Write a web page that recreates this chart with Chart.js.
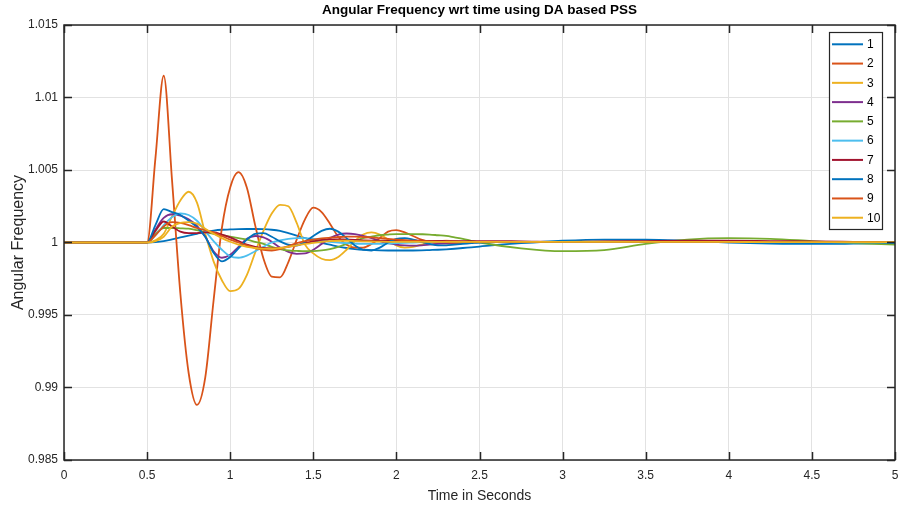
<!DOCTYPE html>
<html>
<head>
<meta charset="utf-8">
<script src="https://cdn.jsdelivr.net/npm/chart.js@4.4.1/dist/chart.umd.min.js"></script>
<style>
  html, body { margin: 0; padding: 0; background: #fff; }
</style>
</head>
<body>
<canvas id="freqChart" width="899" height="508"></canvas>
<script>
// time samples (s), dense during the transient
const times = [0, 0.5,
  0.55, 0.6, 0.65, 0.7, 0.75, 0.8, 0.85, 0.9, 0.95, 1,
  1.05, 1.1, 1.15, 1.2, 1.25, 1.3, 1.35, 1.4, 1.45, 1.5,
  1.55, 1.6, 1.65, 1.7, 1.75, 1.8, 1.85, 1.9, 1.95, 2,
  2.05, 2.1, 2.15, 2.2, 2.25, 2.3, 2.35, 2.4, 2.45, 2.5,
  2.75, 3, 3.25, 3.5, 3.75, 4, 4.25, 4.5, 4.75, 5];

const gen1 = [1, 1,
  1.00003, 1.0001, 1.00022, 1.00035, 1.00048, 1.0006, 1.00072, 1.00082, 1.00088, 1.0009,
  1.00092, 1.00093, 1.00093, 1.00092, 1.00088, 1.0008, 1.00065, 1.00048, 1.0003, 1.00012,
  0.99998, 0.99985, 0.99972, 0.99962, 0.99955, 0.9995, 0.99948, 0.99946, 0.99945, 0.99945,
  0.99945, 0.99945, 0.99946, 0.99948, 0.9995, 0.99953, 0.99957, 0.99962, 0.99967, 0.99972,
  0.99995, 1.00012, 1.0002, 1.0002, 1.00012, 1.0, 0.99993, 0.9999, 0.99992, 0.99995];
const gen2 = [1, 1,
  1.0058, 1.0115, 1.0043, 0.9965, 0.991, 0.9888, 0.9907, 0.996, 1.001, 1.0038,
  1.00485, 1.0038, 1.0012, 0.9989, 0.99765, 0.9976, 0.99865, 1.0002, 1.0016, 1.0024,
  1.0021, 1.0013, 1.0004, 0.99985, 0.99965, 0.99965, 0.9999, 1.0003, 1.00075, 1.00085,
  1.0007, 1.00045, 1.0002, 1.00005, 0.99995, 0.99992, 0.99992, 0.99995, 1.0, 1.00003,
  1.00005, 1.00005, 1.00005, 1.00005, 1.00005, 1.00005, 1.00005, 1.00004, 1.00003, 1.00002];
const gen3 = [1, 1,
  1.00015, 1.0006, 1.0018, 1.0029, 1.0035, 1.00275, 1.0006, 0.9987, 0.9974, 0.99665,
  0.9968, 0.99775, 0.9993, 1.0008, 1.002, 1.0026, 1.0025, 1.00135, 0.99985, 0.99925,
  0.99888, 0.99878, 0.999, 0.9995, 1.0001, 1.00055, 1.0007, 1.00055, 1.0002, 0.9998,
  0.99965, 0.9997, 0.99985, 1.0, 1.0001, 1.00012, 1.0001, 1.00006, 1.00003, 1.00002,
  1.00003, 1.00005, 1.00006, 1.00006, 1.00005, 1.00005, 1.00004, 1.00003, 1.00002, 1.00002];
const gen4 = [1, 1,
  1.0009, 1.0017, 1.00195, 1.00185, 1.0016, 1.00115, 1.0004, 0.9994, 0.99895, 0.99915,
  0.9997, 1.00025, 1.00045, 1.00035, 1.00005, 0.99965, 0.99935, 0.99922, 0.99925, 0.9995,
  0.9999, 1.0003, 1.00055, 1.00062, 1.00058, 1.00045, 1.0003, 1.0001, 0.99995, 0.99985,
  0.9998, 0.99978, 0.9998, 0.99985, 0.9999, 0.99995, 1.0, 1.00004, 1.00005, 1.00005,
  1.00005, 1.00004, 1.00004, 1.00005, 1.00006, 1.00006, 1.00005, 1.00004, 1.00003, 1.00002];
const gen5 = [1, 1,
  1.0006, 1.001, 1.001, 1.00098, 1.00095, 1.00085, 1.00072, 1.0006, 1.0005, 1.0004,
  1.0003, 1.0002, 1.00005, 0.9999, 0.9997, 0.99955, 0.99945, 0.99942, 0.9994, 0.9994,
  0.99945, 0.99955, 0.9997, 0.9999, 1.0001, 1.0003, 1.0004, 1.0005, 1.00055, 1.00058,
  1.00058, 1.00058, 1.00057, 1.00055, 1.0005, 1.00045, 1.00035, 1.00025, 1.00012, 1.0,
  0.9996, 0.9994, 0.99948, 0.9999, 1.0002, 1.0003, 1.00025, 1.0001, 0.99995, 0.99985];
const gen6 = [1, 1,
  1.0005, 1.0012, 1.00175, 1.002, 1.0019, 1.0015, 1.0008, 1.0001, 0.9995, 0.99905,
  0.99895, 0.9991, 0.9994, 0.9997, 1.0, 1.00015, 1.00025, 1.0003, 1.0003, 1.00025,
  1.00015, 1.00005, 1.0, 0.99995, 0.99992, 0.9999, 0.9999, 0.9999, 0.99992, 0.99995,
  0.99998, 1.0, 1.00002, 1.00004, 1.00005, 1.00005, 1.00005, 1.00005, 1.00005, 1.00005,
  1.00004, 1.00003, 1.00003, 1.00003, 1.00003, 1.00003, 1.00002, 1.00002, 1.00001, 1.00001];
const gen7 = [1, 1,
  1.0008, 1.00145, 1.0011, 1.00075, 1.00065, 1.00065, 1.0007, 1.0007, 1.00055, 1.00035,
  1.0001, 0.99985, 0.9997, 0.99962, 0.9996, 0.99962, 0.9997, 0.9998, 0.99995, 1.00008,
  1.00018, 1.00022, 1.00022, 1.0002, 1.00018, 1.00015, 1.00013, 1.00012, 1.00012, 1.00012,
  1.00012, 1.00012, 1.00012, 1.00011, 1.00011, 1.0001, 1.0001, 1.0001, 1.0001, 1.0001,
  1.00008, 1.00005, 1.00008, 1.0001, 1.00012, 1.00012, 1.0001, 1.00008, 1.00005, 1.00002];
const gen8 = [1, 1,
  1.0012, 1.0023, 1.0021, 1.0019, 1.0015, 1.00105, 1.0004, 0.9993, 0.9987, 0.999,
  0.9996, 1.0002, 1.0006, 1.00065, 1.0004, 1.00008, 0.99985, 0.9998, 1.00005, 1.00045,
  1.0008, 1.00095, 1.00075, 1.0003, 0.9998, 0.9995, 0.99945, 0.99965, 1.0, 1.00025,
  1.0003, 1.0002, 1.00005, 0.9999, 0.9998, 0.9998, 0.99985, 0.9999, 0.99995, 1.0,
  1.00005, 1.00005, 1.00005, 1.00004, 1.00003, 1.00002, 1.00002, 1.00001, 1.00001, 1.0];
const gen9 = [1, 1,
  1.0005, 1.0011, 1.0014, 1.00135, 1.0012, 1.001, 1.00085, 1.0007, 1.00045, 1.0002,
  1.0, 0.9998, 0.99962, 0.9995, 0.99945, 0.99955, 0.99975, 0.99995, 1.0001, 1.0002,
  1.00028, 1.00033, 1.00037, 1.0004, 1.0004, 1.00038, 1.00035, 1.0003, 1.00025, 1.0002,
  1.00016, 1.00012, 1.0001, 1.00008, 1.00006, 1.00005, 1.00005, 1.00005, 1.00005, 1.00005,
  1.00005, 1.00005, 1.00005, 1.00005, 1.00004, 1.00004, 1.00003, 1.00003, 1.00002, 1.00002];
const gen10 = [1, 1,
  1.0001, 1.0004, 1.0011, 1.00135, 1.0014, 1.0013, 1.00095, 1.0006, 1.0003, 1.00005,
  0.99985, 0.9997, 0.99962, 0.99958, 0.99958, 0.99962, 0.9997, 0.9998, 0.9999, 0.99998,
  1.00005, 1.0001, 1.00012, 1.00012, 1.0001, 1.00008, 1.00007, 1.00006, 1.00005, 1.00005,
  1.00005, 1.00005, 1.00005, 1.00005, 1.00005, 1.00005, 1.00005, 1.00005, 1.00005, 1.00005,
  1.00005, 1.00005, 1.00005, 1.00005, 1.00004, 1.00004, 1.00003, 1.00003, 1.00002, 1.00002];

const seriesValues = [gen1, gen2, gen3, gen4, gen5, gen6, gen7, gen8, gen9, gen10];
const seriesNames = ['1', '2', '3', '4', '5', '6', '7', '8', '9', '10'];
const seriesColors = ['#0072BD', '#D95319', '#EDB120', '#7E2F8E', '#77AC30',
                      '#4DBEEE', '#A2142F', '#0072BD', '#D95319', '#EDB120'];

const xTicks = [0, 0.5, 1, 1.5, 2, 2.5, 3, 3.5, 4, 4.5, 5];
const xTickLabels = ['0', '0.5', '1', '1.5', '2', '2.5', '3', '3.5', '4', '4.5', '5'];
const yTicks = [0.985, 0.99, 0.995, 1, 1.005, 1.01, 1.015];
const yTickLabels = ['0.985', '0.99', '0.995', '1', '1.005', '1.01', '1.015'];

const chartTitle = 'Angular Frequency wrt time using DA based PSS';
const xTitle = 'Time in Seconds';
const yTitle = 'Angular Frequency';

const FONT = '"Liberation Sans", Arial, Helvetica, sans-serif';
Chart.defaults.font.family = FONT;

// black box + inward ticks on all four sides (matlab look)
const axesBox = {
  id: 'axesBox',
  afterDatasetsDraw(chart) {
    const { ctx, chartArea: a, scales: { x, y } } = chart;
    const tl = 8;
    ctx.save();
    ctx.strokeStyle = '#262626';
    ctx.lineWidth = 1.5;
    ctx.beginPath();
    xTicks.forEach(v => {
      const px = Math.round(x.getPixelForValue(v)) + 0.5;
      ctx.moveTo(px, a.bottom); ctx.lineTo(px, a.bottom - tl);
      ctx.moveTo(px, a.top); ctx.lineTo(px, a.top + tl);
    });
    yTicks.forEach(v => {
      const py = Math.round(y.getPixelForValue(v)) + 0.5;
      ctx.moveTo(a.left, py); ctx.lineTo(a.left + tl, py);
      ctx.moveTo(a.right, py); ctx.lineTo(a.right - tl, py);
    });
    ctx.stroke();
    ctx.strokeRect(a.left, a.top, a.right - a.left, a.bottom - a.top);
    ctx.restore();
  }
};

// legend box inside the plot, top right
const insideLegend = {
  id: 'insideLegend',
  afterDraw(chart) {
    const { ctx } = chart;
    const bx = 829, by = 32, bw = 53, bh = 197;
    ctx.save();
    ctx.fillStyle = '#fff';
    ctx.fillRect(bx, by, bw, bh);
    ctx.strokeStyle = '#262626';
    ctx.lineWidth = 1.2;
    ctx.strokeRect(bx + 0.5, by + 0.5, bw, bh);
    ctx.font = '12px ' + FONT;
    ctx.textBaseline = 'middle';
    ctx.fillStyle = '#000';
    chart.data.datasets.forEach((ds, i) => {
      const ry = by + 12.3 + i * 19.27;
      ctx.strokeStyle = ds.borderColor;
      ctx.lineWidth = 2;
      ctx.beginPath();
      ctx.moveTo(bx + 3, ry);
      ctx.lineTo(bx + 34, ry);
      ctx.stroke();
      ctx.fillText(ds.label, bx + 38, ry + 0.5);
    });
    ctx.restore();
  }
};

new Chart(document.getElementById('freqChart'), {
  type: 'line',
  data: {
    datasets: seriesValues.map((vals, i) => ({
      label: seriesNames[i],
      data: times.map((t, k) => ({ x: t, y: vals[k] })),
      borderColor: seriesColors[i],
      borderWidth: 1.8,
      pointRadius: 0,
      fill: false,
      cubicInterpolationMode: 'monotone',
      order: seriesValues.length - i
    }))
  },
  options: {
    responsive: false,
    animation: false,
    devicePixelRatio: 1,
    layout: { padding: { top: 0, right: 4, left: 0, bottom: 0 } },
    plugins: {
      legend: { display: false },
      tooltip: { enabled: false },
      title: {
        display: true, text: chartTitle, color: '#000', fullSize: false,
        font: { size: 13.5, weight: 'bold' },
        padding: { top: 2, bottom: 6.8 }
      }
    },
    scales: {
      x: {
        type: 'linear', min: 0, max: 5,
        afterBuildTicks: s => { s.ticks = xTicks.map(v => ({ value: v })); },
        afterFit: s => { s.height = 48; s.paddingLeft = 0; s.paddingRight = 0; },
        ticks: {
          callback: (v, i) => xTickLabels[i],
          color: '#262626', font: { size: 12 }, padding: 8,
          maxRotation: 0, autoSkip: false
        },
        grid: { color: '#e2e2e2', drawTicks: false },
        border: { display: false },
        title: { display: true, text: xTitle, color: '#262626', font: { size: 14 }, padding: { top: 0, bottom: 3 } }
      },
      y: {
        min: 0.985, max: 1.015,
        afterBuildTicks: s => { s.ticks = yTicks.map(v => ({ value: v })); },
        afterFit: s => { s.width = 64; s.paddingTop = 0; s.paddingBottom = 0; },
        ticks: {
          callback: (v, i) => yTickLabels[i],
          color: '#262626', font: { size: 12 }, padding: 6, autoSkip: false
        },
        grid: { color: '#e2e2e2', drawTicks: false },
        border: { display: false },
        title: { display: true, text: yTitle, color: '#262626', font: { size: 16 }, padding: { top: 8.5, bottom: 0 } }
      }
    }
  },
  plugins: [axesBox, insideLegend]
});
</script>
</body>
</html>
